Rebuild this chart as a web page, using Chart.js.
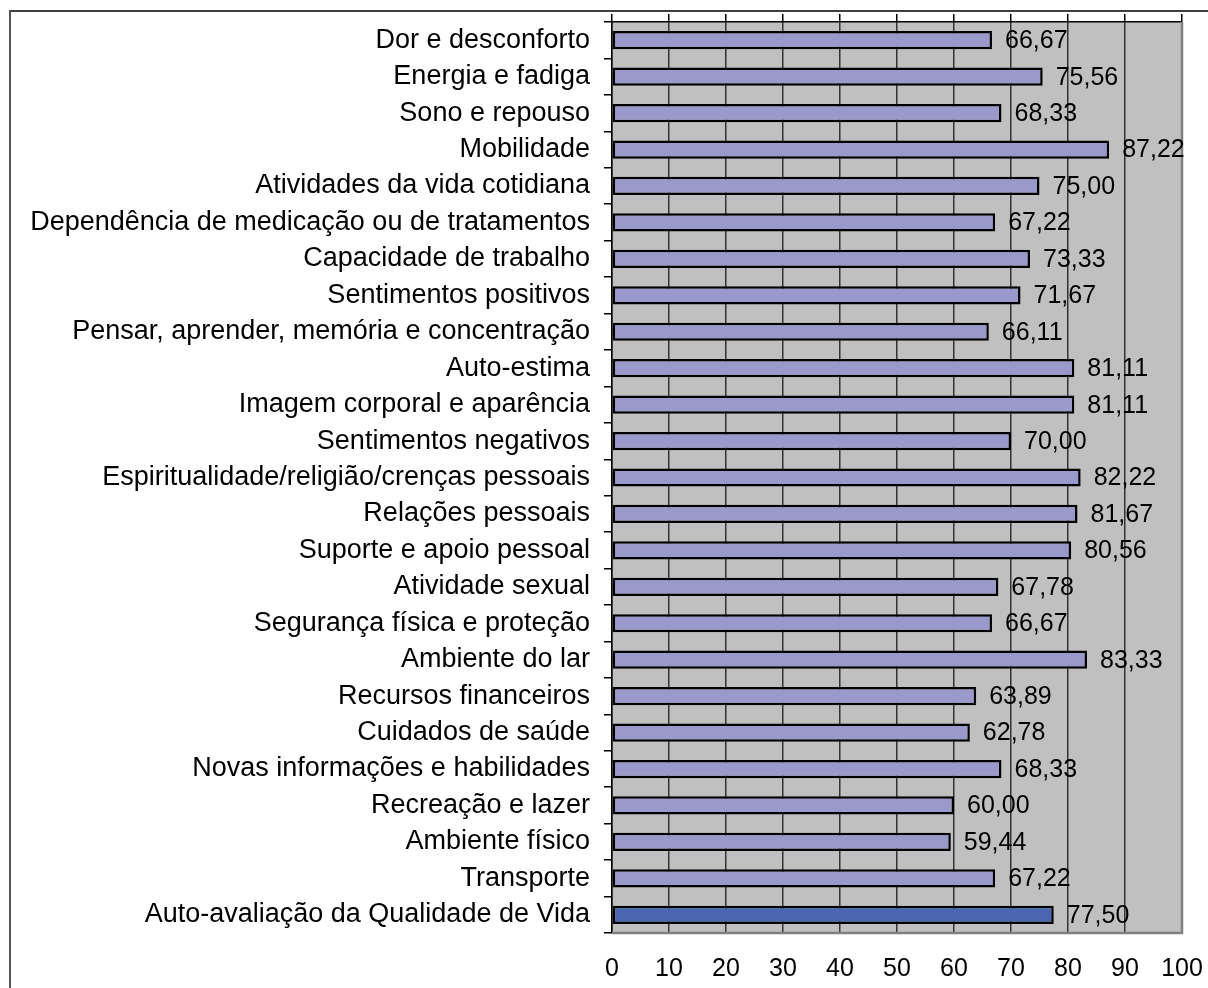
<!DOCTYPE html>
<html>
<head>
<meta charset="utf-8">
<script src="https://cdn.jsdelivr.net/npm/chart.js@4"></script>
<style>
  body { margin: 0; background: #fff; }
  #wrap { width: 1208px; height: 988px; }
</style>
</head>
<body>
<div id="wrap"><canvas id="barChart"></canvas></div>
<script>
const categories = [
  "Dor e desconforto",
  "Energia e fadiga",
  "Sono e repouso",
  "Mobilidade",
  "Atividades da vida cotidiana",
  "Dependência de medicação ou de tratamentos",
  "Capacidade de trabalho",
  "Sentimentos positivos",
  "Pensar, aprender, memória e concentração",
  "Auto-estima",
  "Imagem corporal e aparência",
  "Sentimentos negativos",
  "Espiritualidade/religião/crenças pessoais",
  "Relações pessoais",
  "Suporte e apoio pessoal",
  "Atividade sexual",
  "Segurança física e proteção",
  "Ambiente do lar",
  "Recursos financeiros",
  "Cuidados de saúde",
  "Novas informações e habilidades",
  "Recreação e lazer",
  "Ambiente físico",
  "Transporte",
  "Auto-avaliação da Qualidade de Vida"
];
const scores = [66.67, 75.56, 68.33, 87.22, 75.00, 67.22, 73.33, 71.67, 66.11, 81.11,
  81.11, 70.00, 82.22, 81.67, 80.56, 67.78, 66.67, 83.33, 63.89, 62.78,
  68.33, 60.00, 59.44, 67.22, 77.50];
const xTicks = [0, 10, 20, 30, 40, 50, 60, 70, 80, 90, 100];

const FONT = "'Liberation Sans', Arial, sans-serif";
const barColors = scores.map((v, i) => i === scores.length - 1 ? '#4a66b0' : '#9999cc');

// frame, plot background and plot border
const framePlugin = {
  id: 'frame',
  beforeDraw(chart) {
    const c = chart.ctx, a = chart.chartArea;
    c.save();
    c.fillStyle = '#fff';
    c.fillRect(0, 0, chart.width, chart.height);
    c.fillStyle = '#c0c0c0';
    c.fillRect(a.left, a.top, a.right - a.left, a.bottom - a.top);
    c.strokeStyle = '#000';
    c.lineWidth = 1.5;
    c.beginPath();
    c.moveTo(9, 11); c.lineTo(chart.width, 11);
    c.stroke();
    c.strokeStyle = '#555';
    c.lineWidth = 2;
    c.beginPath();
    c.moveTo(10, 10); c.lineTo(10, chart.height);
    c.stroke();
    c.restore();
  },
  beforeDatasetsDraw(chart) {
    const c = chart.ctx, a = chart.chartArea;
    c.save();
    c.strokeStyle = '#808080';
    c.lineWidth = 2.5;
    c.beginPath();
    c.moveTo(a.left, a.bottom); c.lineTo(a.right, a.bottom); c.lineTo(a.right, a.top);
    c.stroke();
    c.restore();
  }
};

// value labels right of each bar
const valueLabels = {
  id: 'valueLabels',
  afterDatasetsDraw(chart) {
    const c = chart.ctx;
    const meta = chart.getDatasetMeta(0);
    c.save();
    c.font = '25px ' + FONT;
    c.fillStyle = '#000';
    c.textAlign = 'left';
    c.textBaseline = 'middle';
    meta.data.forEach((bar, i) => {
      c.fillText(scores[i].toFixed(2).replace('.', ','), bar.x + 13, bar.y + 1);
    });
    c.restore();
  }
};

function fitX(h) {
  return function (scale) {
    scale.height = h;
    scale.paddingLeft = 0;
    scale.paddingRight = 0;
  };
}

const ctx = document.getElementById('barChart').getContext('2d');
new Chart(ctx, {
  type: 'bar',
  data: {
    labels: categories,
    datasets: [{
      data: scores,
      backgroundColor: barColors,
      borderColor: '#000',
      borderWidth: 2.5,
      borderSkipped: false,
      categoryPercentage: 1,
      barPercentage: 0.5,
      xAxisID: 'x'
    }]
  },
  options: {
    indexAxis: 'y',
    responsive: true,
    maintainAspectRatio: false,
    animation: false,
    layout: { padding: { left: 0, right: 26, top: 0, bottom: 0 } },
    plugins: {
      legend: { display: false },
      tooltip: { enabled: false }
    },
    scales: {
      x: {
        position: 'bottom',
        min: 0,
        max: 100,
        afterBuildTicks(scale) { scale.ticks = xTicks.map(v => ({ value: v })); },
        afterFit: fitX(55),
        grid: { color: '#333', lineWidth: 1.5, drawTicks: false },
        border: { display: false },
        ticks: { color: '#000', padding: 21, font: { family: FONT, size: 25 } }
      },
      x2: {
        position: 'top',
        min: 0,
        max: 100,
        afterBuildTicks(scale) { scale.ticks = xTicks.map(v => ({ value: v })); },
        afterFit: fitX(22),
        grid: { drawOnChartArea: false, color: '#000', lineWidth: 1.5, tickLength: 8 },
        border: { color: '#000', width: 1.5 },
        ticks: { display: false }
      },
      y: {
        afterFit(scale) { scale.width = 612; scale.paddingTop = 0; scale.paddingBottom = 0; },
        grid: { drawOnChartArea: false, offset: true, color: '#000', lineWidth: 1.5, tickLength: 8 },
        border: { color: '#000', width: 1.5 },
        ticks: { color: '#000', padding: 14, autoSkip: false, font: { family: FONT, size: 27 } }
      }
    }
  },
  plugins: [framePlugin, valueLabels]
});
</script>
</body>
</html>
